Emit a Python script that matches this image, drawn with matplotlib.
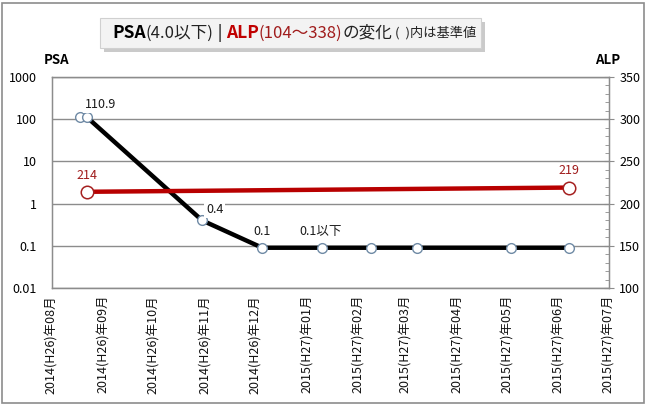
import datetime as dt
import numpy as np
import matplotlib
matplotlib.use("Agg")
import matplotlib.pyplot as plt
from matplotlib.patches import Rectangle
from matplotlib.ticker import FixedLocator, MultipleLocator

plt.rcParams['font.family'] = ['Noto Sans CJK JP', 'DejaVu Sans']

# data
psa_dates = ['2014-08-18', '2014-08-22', '2014-10-30', '2014-12-05', '2015-01-10',
             '2015-02-08', '2015-03-08', '2015-05-03', '2015-06-07']
psa_vals = [110.9, 110.9, 0.4, 0.09, 0.09, 0.09, 0.09, 0.09, 0.09]
psa_labels = ['', '110.9', '0.4', '0.1', '0.1以下', '', '', '', '']
psa_offsets = [(0, 0), (10, 9), (9, 8), (0, 12), (-1, 12), (0, 0), (0, 0), (0, 0), (0, 0)]

alp_dates = ['2014-08-22', '2015-06-07']
alp_vals = [214, 219]
alp_labels = ['214', '219']

month_ticks = ['2014-08-01', '2014-09-01', '2014-10-01', '2014-11-01', '2014-12-01',
               '2015-01-01', '2015-02-01', '2015-03-01', '2015-04-01', '2015-05-01',
               '2015-06-01', '2015-07-01']
month_labels = ['2014(H26)年08月', '2014(H26)年09月', '2014(H26)年10月', '2014(H26)年11月',
                '2014(H26)年12月', '2015(H27)年01月', '2015(H27)年02月', '2015(H27)年03月',
                '2015(H27)年04月', '2015(H27)年05月', '2015(H27)年06月', '2015(H27)年07月']

psa_ticks = [0.01, 0.1, 1, 10, 100, 1000]
psa_ticklabels = ['0.01', '0.1', '1', '10', '100', '1000']


def to_date(s):
    return dt.datetime.strptime(s, '%Y-%m-%d')


W, H = 646, 404
fig = plt.figure(figsize=(W / 100, H / 100), dpi=100)
fig.patch.set_facecolor('white')
fig.add_artist(Rectangle((1.5 / W, 1.5 / H), (W - 4) / W, (H - 4) / H, transform=fig.transFigure,
                         fill=False, edgecolor='#8c8c8c', linewidth=1.2))

ax = fig.add_axes([52 / W, 1 - 288 / H, (609 - 52) / W, (288 - 77) / H])
grid_c = '#8c8c8c'
for s in ax.spines.values():
    s.set_color(grid_c)
    s.set_linewidth(1)

pd_ = [to_date(d) for d in psa_dates]
ax.plot(pd_, psa_vals, color='black', linewidth=3.2, marker='o', markersize=7,
        markerfacecolor='white', markeredgecolor='#6f8aa5', markeredgewidth=1, zorder=3)
ax.set_yscale('log')
ax.set_ylim(0.01, 1000)
ax.yaxis.set_major_locator(FixedLocator(psa_ticks))
ax.yaxis.set_minor_locator(FixedLocator([]))
ax.set_yticklabels(psa_ticklabels)
ax.tick_params(axis='y', length=0, pad=11, labelsize=9)
ax.grid(axis='y', color=grid_c, linewidth=1)

ax.set_xlim(to_date(month_ticks[0]), to_date(month_ticks[-1]))
ax.set_xticks([to_date(d) for d in month_ticks])
ax.set_xticklabels(month_labels, rotation=90, fontsize=9, color='#111111')
ax.tick_params(axis='x', length=0, pad=5)

for d, v, lab, off in zip(pd_, psa_vals, psa_labels, psa_offsets):
    if lab:
        ax.annotate(lab, (d, v), xytext=off, textcoords='offset points', ha='center', va='center',
                    fontsize=9, color='#1a1a1a', zorder=5,
                    bbox=dict(boxstyle='square,pad=0.15', facecolor='white', edgecolor='none'))

ax2 = ax.twinx()
ad = [to_date(d) for d in alp_dates]
ax2.plot(ad, alp_vals, color='#b80000', linewidth=3.2, marker='o', markersize=9,
         markerfacecolor='white', markeredgecolor='#a52020', markeredgewidth=1.1, zorder=3)
ax2.set_ylim(100, 350)
ax2.yaxis.set_major_locator(MultipleLocator(50))
ax2.yaxis.set_minor_locator(MultipleLocator(10))
ax2.tick_params(axis='y', which='major', direction='inout', length=7, color=grid_c, labelsize=9, pad=4)
ax2.tick_params(axis='y', which='minor', direction='in', length=3, color=grid_c)
for s in ax2.spines.values():
    s.set_color(grid_c)
for d, v, lab in zip(ad, alp_vals, alp_labels):
    ax2.annotate(lab, (d, v), xytext=(0, 12), textcoords='offset points', ha='center', va='center',
                 fontsize=9, color='#a01c1c')

fig.text(57 / W, 1 - 60 / H, 'PSA', fontsize=9.5, fontweight='bold', ha='center', va='center')
fig.text(608 / W, 1 - 60 / H, 'ALP', fontsize=9.5, fontweight='bold', ha='center', va='center')

# title box with shadow
bx0, by0, bw, bh = 100, 18, 381, 30
fig.add_artist(Rectangle(((bx0 + 4) / W, 1 - (by0 + bh + 4) / H), bw / W, bh / H,
                         transform=fig.transFigure, facecolor='#a0a0a0', edgecolor='none', alpha=0.55))
fig.add_artist(Rectangle((bx0 / W, 1 - (by0 + bh) / H), bw / W, bh / H, transform=fig.transFigure,
                         facecolor='#f3f3f3', edgecolor='#d0d0d0', linewidth=0.8))

pieces = [('PSA', 'black', 'bold', 12.5), ('(4.0以下)', '#222222', 'normal', 12),
          (' | ', 'black', 'normal', 12), ('ALP', '#c00000', 'bold', 12.5),
          ('(104～338)', '#a01c1c', 'normal', 12), ('の変化', '#222222', 'normal', 12),
          (' (  )内は基準値', '#222222', 'normal', 9.5)]
fig.canvas.draw()
renderer = fig.canvas.get_renderer()
x = 112
for txt, col, wt, fs in pieces:
    t = fig.text(x / W, 1 - 33 / H, txt, color=col, fontweight=wt, fontsize=fs, ha='left', va='center')
    bb = t.get_window_extent(renderer)
    x += bb.width

fig.savefig('out.png', dpi=100)
